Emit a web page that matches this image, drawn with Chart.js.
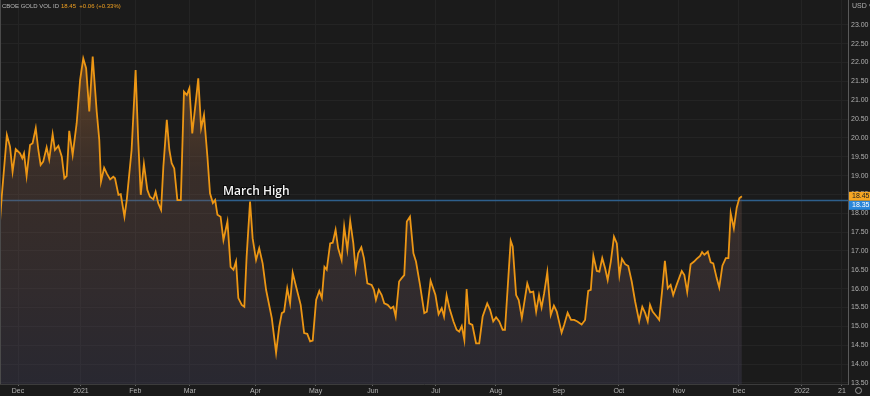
<!DOCTYPE html>
<html>
<head>
<meta charset="utf-8">
<script src="https://cdn.jsdelivr.net/npm/chart.js@4"></script>
<style>
body{margin:0;background:#1b1b1b;}
#wrap{width:870px;height:396px;}
</style>
</head>
<body>
<div id="wrap"><canvas id="volChart" width="870" height="396"></canvas></div>
<script>
// CBOE Gold volatility index, trading day index (0 = 1 Dec 2020) and value
const days=[-6.3,-5.7,-3.9,-2.8,-1.9,-0.8,0.7,1.5,2.1,3.0,
4.2,5.1,6.2,7.1,7.9,8.8,10.0,10.9,12.1,12.9,
14.1,15.3,16.2,17.0,17.9,19.1,20.5,21.7,22.8,23.8,
24.9,26.1,27.5,28.4,29.0,30.1,31.0,32.2,33.3,33.9,
35.1,35.9,37.2,38.0,39.7,41.1,42.0,42.9,44.0,45.2,
46.1,47.3,48.1,49.0,50.0,50.8,52.0,52.9,53.7,54.6,
55.7,56.9,58.0,59.0,59.9,60.9,62.2,63.0,64.0,65.0,
66.2,67.1,68.1,68.9,69.7,70.8,71.8,73.2,74.3,75.3,
76.2,77.0,78.2,79.1,79.9,81.1,82.0,83.2,84.3,85.5,
86.7,88.7,90.2,91.3,92.2,93.0,94.1,95.1,96.0,97.2,
98.8,100.0,101.1,102.1,103.0,104.2,105.3,106.2,107.1,107.9,
109.1,110.0,111.0,111.9,113.1,114.0,115.1,116.1,117.2,118.0,
118.9,120.0,120.9,122.1,123.6,124.4,125.1,126.1,127.1,128.0,
129.2,130.3,131.2,132.0,133.2,134.1,135.0,135.9,137.0,138.2,
139.1,140.5,142.0,142.9,144.2,145.9,147.0,148.1,148.9,149.8,
150.8,152.2,153.3,154.2,155.1,156.0,156.8,157.7,158.8,160.1,
161.2,162.4,164.0,165.0,166.1,167.1,168.2,169.4,170.2,171.4,
172.2,172.9,174.1,175.0,176.1,178.0,179.0,180.1,181.1,182.1,
183.0,183.9,185.0,186.2,187.3,188.3,190.0,190.9,192.1,193.3,
194.4,195.5,197.0,198.2,199.3,200.2,201.1,202.3,203.2,204.2,
205.2,206.1,207.2,208.3,209.3,210.2,211.1,212.2,213.3,214.5,
215.7,217.1,218.2,219.2,220.1,220.9,221.8,223.2,224.1,225.1,
226.1,227.1,228.1,229.0,230.2,232.0,232.9,233.9,235.1,236.3,
237.2,238.4,239.1,239.9,241.1,242.1,243.0,244.2,245.1,246.2,
247.4,248.3,249.1,250.2,251.2,252.1,253.0];

const vol=[17.78,18.44,20.08,19.77,19.10,19.70,19.59,19.46,19.59,18.99,
19.81,19.86,20.26,19.68,19.28,19.37,19.75,19.43,20.10,19.68,
19.79,19.50,18.93,18.99,20.19,19.55,20.39,21.54,22.11,21.85,
20.70,22.16,20.70,19.95,18.84,19.21,19.06,18.90,18.97,18.93,
18.49,18.51,17.91,18.35,19.68,21.80,19.95,18.49,19.31,18.62,
18.44,18.37,18.57,18.27,18.09,19.24,20.48,19.68,19.33,19.19,
18.35,18.35,21.23,21.14,21.32,20.12,21.01,21.58,20.26,20.61,
19.50,18.53,18.27,18.35,17.96,17.91,17.29,17.78,16.58,16.50,
16.72,15.75,15.57,15.52,16.85,18.31,17.34,16.76,17.07,16.67,
15.97,15.22,14.30,14.99,15.35,15.39,16.01,15.61,16.42,16.05,
15.57,14.82,14.80,14.60,14.62,15.70,15.94,15.75,16.58,16.50,
17.20,17.22,17.56,17.07,16.76,17.65,17.03,17.80,17.20,16.50,
16.94,17.10,16.81,16.14,16.10,15.97,15.70,15.97,15.83,15.61,
15.57,15.48,15.52,15.26,16.19,16.28,16.36,17.78,17.91,16.94,
16.72,16.10,15.35,15.39,16.21,15.83,15.32,15.48,15.26,15.83,
15.48,15.13,14.91,14.86,15.01,14.64,15.99,15.08,15.04,14.55,
14.55,15.26,15.61,15.44,15.13,15.24,15.13,14.91,14.91,16.32,
17.27,17.12,15.83,15.70,15.22,16.14,15.90,15.92,15.39,15.83,
15.50,15.88,16.44,15.30,15.55,15.39,14.83,15.04,15.36,15.17,
15.17,15.13,15.05,15.17,15.94,15.97,16.87,16.47,16.45,16.81,
16.54,16.23,16.72,17.38,17.20,16.36,16.79,16.65,16.60,16.19,
15.66,15.14,15.52,15.35,15.13,15.57,15.39,15.26,15.17,15.92,
16.74,16.01,16.10,15.83,16.10,16.47,16.36,15.91,16.65,16.72,
16.79,16.87,16.97,16.90,16.98,16.70,16.67,16.28,16.03,16.61,
16.81,16.81,18.00,17.60,18.15,18.40,18.45];

// x axis labels (month starts in trading days)
const tickDays=[0,22,41,60,83,104,124,146,167,189,210,231,252,274,288];
const tickLabels=['Dec','2021','Feb','Mar','Apr','May','Jun','Jul','Aug','Sep','Oct','Nov','Dec','2022','21'];

// y axis labels
const yTicks=[13.5,14,14.5,15,15.5,16,16.5,17,17.5,18,18.5,19,19.5,20,20.5,21,21.5,22,22.5,23];

const marchHigh=18.34;
const marchHighDay=81.1;
const lastValue=18.45;
const header={name:'CBOE GOLD VOL ID',price:'18.45',change:'+0.06 (+0.33%)'};

const xMin=-6.3, xMax=290.1;

const overlay={
id:'overlay',
afterDraw(chart){
const c=chart.ctx;
const xs=chart.scales.x, ys=chart.scales.y;
const area=chart.chartArea;
c.save();

// left border
c.strokeStyle='#4a4a4a';
c.lineWidth=1;
c.beginPath();c.moveTo(0.5,0);c.lineTo(0.5,area.bottom);c.stroke();

// header
c.font='6px "Liberation Sans", Arial, sans-serif';
c.textBaseline='middle';
c.textAlign='left';
c.fillStyle='#b8b8b8';
c.fillText(header.name,2,6);
c.fillStyle='#f0a020';
c.fillText(header.price+'  '+header.change,61,6);

// annotation
const hy=ys.getPixelForValue(marchHigh);
const hx=xs.getPixelForValue(marchHighDay);
c.font='600 12px "Open Sans", sans-serif';
c.textBaseline='alphabetic';
c.lineWidth=2;
c.strokeStyle='rgba(0,0,0,0.6)';
c.strokeText('March High',hx-27,hy-5);
c.fillStyle='#f4f4f4';
c.fillText('March High',hx-27,hy-5);

// currency label
c.font='7px "Liberation Sans", Arial, sans-serif';
c.textBaseline='middle';
c.fillStyle='#b0b0b0';
c.fillText('USD \u25BE',852,6);

// value tags on the right axis
const ly=ys.getPixelForValue(lastValue);
c.fillStyle='#f5a623';
c.fillRect(area.right+1,ly-4.5,21,9);
c.fillStyle='#222';
c.fillText(lastValue.toFixed(2),area.right+4,ly);
c.fillStyle='#2b86d9';
c.fillRect(area.right+1,ly+4.5,21,9);
c.fillStyle='#fff';
c.fillText('18.35',area.right+4,ly+9);

// settings icon in corner
c.strokeStyle='#9a9a9a';
c.lineWidth=1;
c.beginPath();c.arc(858.5,390.5,3,0,Math.PI*2);c.stroke();

c.restore();
}
};

const volChart=document.getElementById('volChart');

new Chart(volChart,{
type:'line',
data:{
datasets:[{
label:'Gold VIX',
data:days.map((d,i)=>({x:d,y:vol[i]})),
borderColor:'#ec9614',
borderWidth:1.8,
pointRadius:0,
tension:0,
fill:'start',
backgroundColor:(ctx)=>{
const a=ctx.chart.chartArea;
if(!a)return 'transparent';
const g=ctx.chart.ctx.createLinearGradient(0,a.top,0,a.bottom);
g.addColorStop(0,'rgba(205,125,35,0.55)');
g.addColorStop(0.45,'rgba(120,85,70,0.32)');
g.addColorStop(1,'rgba(62,60,82,0.4)');
return g;
}
},{
label:'March High',
data:[{x:xMin,y:marchHigh},{x:xMax,y:marchHigh}],
borderColor:'#2e5f8c',
borderWidth:1.5,
pointRadius:0,
fill:false
}]
},
options:{
responsive:false,
animation:false,
layout:{padding:0},
plugins:{legend:{display:false},tooltip:{enabled:false}},
scales:{
x:{
type:'linear',
min:xMin,
max:xMax,
afterBuildTicks:(s)=>{s.ticks=tickDays.map(v=>({value:v}));},
afterFit:(s)=>{s.height=12;s.paddingLeft=0;s.paddingRight=0;},
ticks:{
autoSkip:false,
maxRotation:0,
padding:1,
color:'#b4b4b4',
font:{size:7,family:'"Liberation Sans", Arial, sans-serif'},
callback:(v)=>tickLabels[tickDays.indexOf(v)]
},
grid:{color:'#242424',tickColor:'#666',tickLength:2},
border:{color:'#3c3c3c'}
},
y:{
position:'right',
min:13.47,
max:23.66,
afterBuildTicks:(s)=>{s.ticks=yTicks.map(v=>({value:v}));},
afterFit:(s)=>{s.width=22;s.paddingTop=0;s.paddingBottom=0;},
ticks:{
padding:3,
color:'#b0b0b0',
font:{size:7,family:'"Liberation Sans", Arial, sans-serif'},
callback:(v)=>v.toFixed(2)
},
grid:{color:'#242424',tickLength:0},
border:{color:'#5a5a5a'}
}
}
},
plugins:[overlay]
});
</script>
</body>
</html>
